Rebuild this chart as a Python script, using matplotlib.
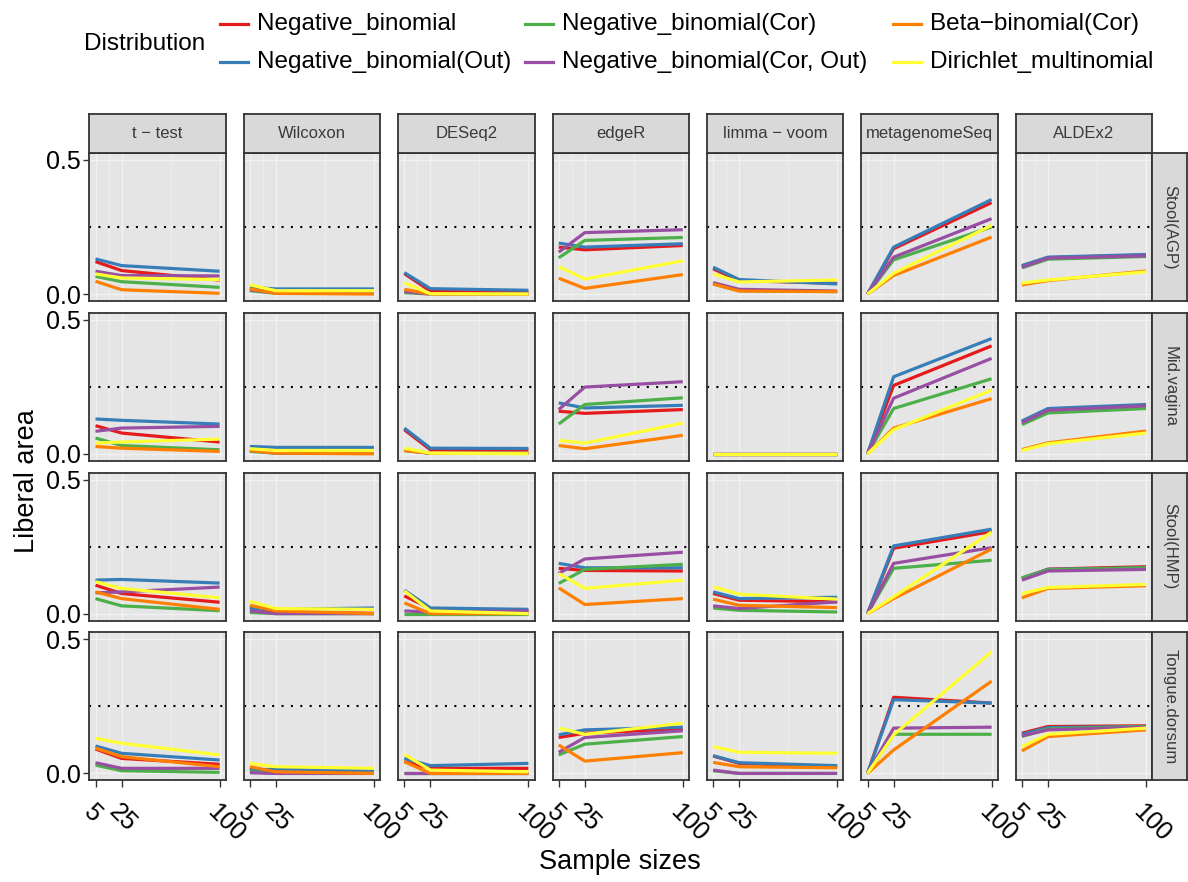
import matplotlib
matplotlib.use("Agg")
import matplotlib.pyplot as plt
from matplotlib.lines import Line2D
import numpy as np

plt.rcParams['font.family'] = ['Liberation Sans', 'DejaVu Sans']

# ---------------- data ----------------
sample_sizes = [5, 25, 100]
methods = ["t − test", "Wilcoxon", "DESeq2", "edgeR", "limma − voom", "metagenomeSeq", "ALDEx2"]
sites = ["Stool(AGP)", "Mid.vagina", "Stool(HMP)", "Tongue.dorsum"]
series_names = ["Negative_binomial", "Negative_binomial(Out)", "Negative_binomial(Cor)",
                "Negative_binomial(Cor, Out)", "Beta−binomial(Cor)", "Dirichlet_multinomial"]
series_colors = ["#E41A1C", "#377EB8", "#4DAF4A", "#984EA3", "#FF7F00", "#FFFF33"]

# order of series in each method entry: NB, NB(Out), NB(Cor), NB(Cor,Out), BB(Cor), DM
stool_agp = {
    "t − test":      [[0.121, 0.0875, 0.052], [0.131, 0.106, 0.085], [0.066, 0.046, 0.025],
                      [0.085, 0.069, 0.0675], [0.0475, 0.016, 0.0025], [0.075, 0.06, 0.054]],
    "Wilcoxon":      [[0.022, 0.005, 0.005], [0.025, 0.019, 0.019], [0.0125, 0.0025, 0.0025],
                      [0.015, 0.004, 0.004], [0.019, 0.0025, 0.0], [0.034, 0.0125, 0.0125]],
    "DESeq2":        [[0.076, 0.011, 0.009], [0.08, 0.02, 0.014], [0.005, 0.0, 0.0],
                      [0.009, 0.0, 0.0], [0.0175, 0.0, 0.0], [0.042, 0.001, 0.0]],
    "edgeR":         [[0.175, 0.165, 0.181], [0.19, 0.175, 0.1875], [0.135, 0.2, 0.211],
                      [0.156, 0.229, 0.24], [0.059, 0.021, 0.0725], [0.1025, 0.056, 0.124]],
    "limma − voom":  [[0.094, 0.05, 0.04], [0.1, 0.054, 0.0375], [0.0375, 0.0125, 0.009],
                      [0.0425, 0.0175, 0.011], [0.0375, 0.011, 0.009], [0.075, 0.045, 0.0525]],
    "metagenomeSeq": [[0.0, 0.169, 0.341], [0.0, 0.175, 0.3525], [0.0, 0.1275, 0.25],
                      [0.0, 0.1375, 0.281], [0.0, 0.069, 0.2125], [0.0, 0.0775, 0.256]],
    "ALDEx2":        [[0.105, 0.136, 0.145], [0.106, 0.1375, 0.1475], [0.0975, 0.13, 0.14],
                      [0.1, 0.134, 0.1425], [0.034, 0.05, 0.086], [0.041, 0.0525, 0.0825]],
}
mid_vagina = {
    "t − test":      [[0.105, 0.0775, 0.044], [0.13, 0.125, 0.111], [0.059, 0.031, 0.015],
                      [0.084, 0.096, 0.1025], [0.0275, 0.021, 0.009], [0.04, 0.044, 0.055]],
    "Wilcoxon":      [[0.015, 0.005, 0.005], [0.0275, 0.024, 0.024], [0.009, 0.0025, 0.0025],
                      [0.0125, 0.0025, 0.0025], [0.0125, 0.0025, 0.0], [0.019, 0.0125, 0.0125]],
    "DESeq2":        [[0.09, 0.015, 0.015], [0.096, 0.021, 0.02], [0.012, 0.002, 0.002],
                      [0.014, 0.002, 0.002], [0.0125, 0.002, 0.002], [0.021, 0.0025, 0.0]],
    "edgeR":         [[0.159, 0.151, 0.165], [0.19, 0.171, 0.181], [0.111, 0.184, 0.209],
                      [0.165, 0.249, 0.269], [0.031, 0.019, 0.069], [0.05, 0.04, 0.115]],
    "limma − voom":  [[0.0, 0.0, 0.0], [0.0, 0.0, 0.0], [0.0, 0.0, 0.0],
                      [0.0, 0.0, 0.0], [0.0, 0.0, 0.0], [0.0, 0.0, 0.0]],
    "metagenomeSeq": [[0.0, 0.255, 0.4025], [0.0, 0.2875, 0.43], [0.0, 0.169, 0.28],
                      [0.0, 0.2075, 0.356], [0.0, 0.096, 0.206], [0.0, 0.09, 0.2375]],
    "ALDEx2":        [[0.12, 0.166, 0.181], [0.1225, 0.169, 0.184], [0.109, 0.1525, 0.169],
                      [0.116, 0.1625, 0.179], [0.016, 0.041, 0.085], [0.0125, 0.0375, 0.0775]],
}
stool_hmp = {
    "t − test":      [[0.106, 0.075, 0.0425], [0.125, 0.1275, 0.114], [0.056, 0.029, 0.011],
                      [0.0775, 0.081, 0.099], [0.081, 0.056, 0.016], [0.119, 0.094, 0.059]],
    "Wilcoxon":      [[0.025, 0.006, 0.001], [0.019, 0.016, 0.021], [0.004, 0.0, 0.0],
                      [0.01, 0.0, 0.0], [0.031, 0.01, 0.0], [0.046, 0.019, 0.016]],
    "DESeq2":        [[0.066, 0.019, 0.01], [0.0875, 0.021, 0.016], [0.0, 0.0, 0.0],
                      [0.01, 0.006, 0.01], [0.04, 0.0, 0.0], [0.085, 0.01, 0.0]],
    "edgeR":         [[0.169, 0.161, 0.159], [0.1875, 0.171, 0.171], [0.1125, 0.165, 0.184],
                      [0.15, 0.204, 0.229], [0.096, 0.034, 0.056], [0.15, 0.094, 0.125]],
    "limma − voom":  [[0.075, 0.05, 0.044], [0.081, 0.056, 0.061], [0.021, 0.0125, 0.006],
                      [0.029, 0.019, 0.044], [0.054, 0.031, 0.0225], [0.1, 0.0725, 0.054]],
    "metagenomeSeq": [[0.0, 0.244, 0.306], [0.0, 0.2525, 0.315], [0.0, 0.169, 0.199],
                      [0.0, 0.1875, 0.246], [0.0, 0.056, 0.241], [0.0, 0.0625, 0.304]],
    "ALDEx2":        [[0.131, 0.166, 0.175], [0.133, 0.165, 0.171], [0.133, 0.164, 0.171],
                      [0.125, 0.159, 0.165], [0.059, 0.094, 0.104], [0.075, 0.0975, 0.109]],
}
tongue_dorsum = {
    "t − test":      [[0.091, 0.056, 0.034], [0.1025, 0.075, 0.05], [0.031, 0.01, 0.004],
                      [0.04, 0.019, 0.019], [0.094, 0.0625, 0.025], [0.131, 0.1125, 0.069]],
    "Wilcoxon":      [[0.019, 0.006, 0.003], [0.0125, 0.016, 0.01], [0.006, 0.0, 0.0],
                      [0.0025, 0.0, 0.0], [0.025, 0.006, 0.0], [0.0375, 0.025, 0.019]],
    "DESeq2":        [[0.044, 0.019, 0.019], [0.056, 0.029, 0.0375], [0.0, 0.0, 0.0],
                      [0.0, 0.0, 0.0], [0.044, 0.0, 0.0], [0.071, 0.0125, 0.006]],
    "edgeR":         [[0.134, 0.15, 0.166], [0.144, 0.1625, 0.1725], [0.069, 0.109, 0.1375],
                      [0.079, 0.134, 0.159], [0.106, 0.046, 0.0775], [0.169, 0.146, 0.1875]],
    "limma − voom":  [[0.065, 0.0375, 0.025], [0.066, 0.04, 0.029], [0.01, 0.0, 0.0],
                      [0.0125, 0.0, 0.0], [0.041, 0.025, 0.021], [0.1, 0.079, 0.075]],
    "metagenomeSeq": [[0.0, 0.284, 0.2625], [0.0, 0.275, 0.2625], [0.0, 0.146, 0.146],
                      [0.0, 0.169, 0.1725], [0.0, 0.0875, 0.344], [0.0, 0.144, 0.454]],
    "ALDEx2":        [[0.15, 0.175, 0.1775], [0.146, 0.171, 0.175], [0.138, 0.166, 0.175],
                      [0.14, 0.1625, 0.1725], [0.084, 0.1375, 0.1625], [0.1, 0.146, 0.169]],
}
site_data = [stool_agp, mid_vagina, stool_hmp, tongue_dorsum]
threshold = 0.25
y_ticks = [0.0, 0.5]
y_ticklabels = ["0.0", "0.5"]

# ---------------- layout (pixels) ----------------
W, H = 1188, 882
fig = plt.figure(figsize=(W / 100, H / 100), dpi=100)
fig.patch.set_facecolor("white")

col_left = [89.3 + 154.4 * i for i in range(7)]
panel_w = 136.5
row_top = [153.0 + 159.8 * j for j in range(4)]
panel_h = 148.0
strip_h = 39.0
rstrip_w = 35.0

def fig_rect(x, y, w, h):
    return [x / W, 1 - (y + h) / H, w / W, h / H]

border_col = "#333333"
bg_col = "#E5E5E5"
strip_col = "#D9D9D9"
strip_text_col = "#3A3A3A"

for r, site in enumerate(sites):
    data = site_data[r]
    for c, meth in enumerate(methods):
        ax = fig.add_axes(fig_rect(col_left[c], row_top[r], panel_w, panel_h))
        ax.set_facecolor(bg_col)
        ax.set_xlim(0.25, 104.75)
        ax.set_ylim(-0.026, 0.526)
        # grid
        for gx in [15, 62.5]:
            ax.axvline(gx, color="#F2F2F2", lw=0.5, zorder=0.5)
        for gx in sample_sizes:
            ax.axvline(gx, color="#F2F2F2", lw=1.0, zorder=0.6)
        ax.axhline(0.25, color="#F2F2F2", lw=0.5, zorder=0.5)
        for gy in y_ticks:
            ax.axhline(gy, color="#F2F2F2", lw=1.0, zorder=0.6)
        ax.axhline(threshold, color="black", lw=1.5, ls=(0, (1, 3.5)), zorder=1)
        for s, (nm, col) in enumerate(zip(series_names, series_colors)):
            ax.plot(sample_sizes, data[meth][s], color=col, lw=2.3, zorder=2 + s,
                    solid_capstyle="butt")
        for sp in ax.spines.values():
            sp.set_color(border_col)
            sp.set_linewidth(1.3)
            sp.set_zorder(20)
        ax.set_xticks(sample_sizes)
        ax.set_yticks(y_ticks)
        ax.tick_params(colors=border_col, length=4, width=1.0, labelcolor="black",
                       labelsize=18)
        if c == 0:
            ax.set_yticklabels(y_ticklabels)
            ax.tick_params(axis="y", pad=2)
        else:
            ax.tick_params(axis="y", left=False, labelleft=False)
        if r == 3:
            ax.set_xticklabels([str(v) for v in sample_sizes], rotation=-45,
                               ha="left", va="top", rotation_mode="anchor")
            ax.tick_params(axis="x", pad=9, length=5)
        else:
            ax.tick_params(axis="x", bottom=False, labelbottom=False)

        # top strip
        if r == 0:
            sax = fig.add_axes(fig_rect(col_left[c], row_top[0] - strip_h, panel_w, strip_h))
            sax.set_facecolor(strip_col)
            sax.set_xticks([]); sax.set_yticks([])
            for sp in sax.spines.values():
                sp.set_color(border_col); sp.set_linewidth(1.3)
            sax.text(0.5, 0.5, meth, ha="center", va="center", fontsize=12,
                     color=strip_text_col, transform=sax.transAxes)
        # right strip
        if c == 6:
            rax = fig.add_axes(fig_rect(col_left[6] + panel_w, row_top[r], rstrip_w, panel_h))
            rax.set_facecolor(strip_col)
            rax.set_xticks([]); rax.set_yticks([])
            for sp in rax.spines.values():
                sp.set_color(border_col); sp.set_linewidth(1.3)
            rax.text(0.5, 0.5, site, ha="center", va="center", fontsize=12,
                     rotation=-90, color=strip_text_col, transform=rax.transAxes)

# axis titles
fig.text(620 / W, 1 - 862 / H, "Sample sizes", ha="center", va="center", fontsize=19.5)
fig.text(27 / W, 1 - 481 / H, "Liberal area", ha="center", va="center", fontsize=19.5,
         rotation=90)

# legend (manual layout, 3 columns x 2 rows)
fig.text(84 / W, 1 - 44 / H, "Distribution", ha="left", va="center", fontsize=17.5)
key_x = [220, 525, 893]
key_y = [24, 62]
for i, (nm, col) in enumerate(zip(series_names, series_colors)):
    cc, rr = i // 2, i % 2
    x0 = key_x[cc]
    y0 = 1 - key_y[rr] / H
    fig.add_artist(Line2D([x0 / W, (x0 + 28) / W], [y0, y0], color=col, lw=2.3,
                          transform=fig.transFigure))
    fig.text((x0 + 37) / W, y0, nm, ha="left", va="center", fontsize=17.5)

fig.savefig("out.png", dpi=100)
